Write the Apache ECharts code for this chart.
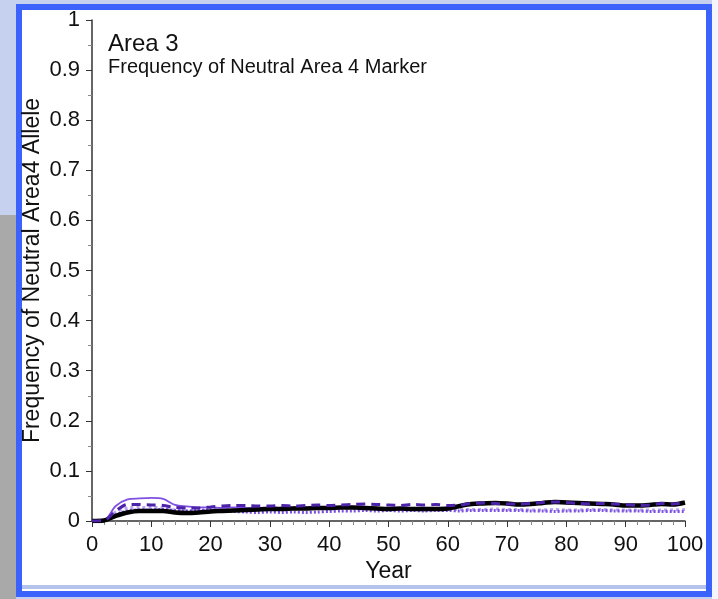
<!DOCTYPE html>
<html>
<head>
<meta charset="utf-8">
<script src="https://cdn.jsdelivr.net/npm/echarts@6/dist/echarts.min.js"></script>
<style>
  html, body { margin: 0; padding: 0; width: 718px; height: 599px; overflow: hidden; background: #c6d1ef; position: relative; }
  #gray { position: absolute; left: 0; top: 215px; width: 16px; height: 384px; background: #a9a9a9; }
  #rightstrip { position: absolute; left: 712px; top: 0; width: 6px; height: 599px; background: #f4f6fc; }
  #frame { position: absolute; left: 16px; top: 4px; width: 684px; height: 581px; border: 6px solid #3b63fb; background: #fff; }
  #bottomstrip { position: absolute; left: 22px; top: 585px; width: 684px; height: 4px; background: #b3c3ec; }
  #chart { position: absolute; left: 0; top: 0; width: 718px; height: 599px; }
</style>
</head>
<body>
<div id="gray"></div>
<div id="rightstrip"></div>
<div id="frame"></div>
<div id="bottomstrip"></div>
<div id="chart"></div>
<script>
const years = [0,2,4,6,8,10,12,14,16,18,20,22,24,26,28,30,32,34,36,38,40,42,44,46,48,50,52,54,56,58,60,62,64,66,68,70,72,74,76,78,80,82,84,86,88,90,92,94,96,98,100];

const blackSolid = [0,0.001,0.010,0.017,0.020,0.020,0.020,0.017,0.016,0.017,0.019,0.020,0.021,0.022,0.023,0.024,0.024,0.025,0.025,0.026,0.026,0.027,0.027,0.026,0.025,0.024,0.025,0.024,0.024,0.024,0.025,0.030,0.034,0.035,0.036,0.035,0.033,0.034,0.036,0.038,0.037,0.036,0.035,0.034,0.033,0.031,0.031,0.032,0.034,0.033,0.037];

const purpleDashed = [0,0.001,0.020,0.033,0.033,0.032,0.031,0.027,0.026,0.026,0.028,0.030,0.031,0.031,0.030,0.030,0.031,0.030,0.031,0.032,0.031,0.032,0.033,0.034,0.033,0.032,0.031,0.033,0.032,0.033,0.031,0.032,0.035,0.036,0.035,0.034,0.034,0.035,0.037,0.038,0.037,0.035,0.034,0.035,0.034,0.033,0.031,0.032,0.035,0.034,0.036];

const lightPurple = [0,0.001,0.030,0.043,0.045,0.046,0.044,0.032,0.029,0.027,0.027,0.026,0.027,0.026,0.026,0.027,0.026,0.027,0.027,0.028,0.028,0.027,0.028,0.027,0.026,0.025,0.026,0.025,0.024,0.025,0.026,0.030,0.033,0.034,0.035,0.035,0.034,0.034,0.036,0.036,0.035,0.034,0.033,0.034,0.033,0.032,0.032,0.032,0.033,0.034,0.035];

const purpleDotted = [0,0.001,0.012,0.020,0.022,0.022,0.023,0.021,0.020,0.021,0.022,0.021,0.019,0.018,0.017,0.018,0.017,0.018,0.017,0.018,0.019,0.020,0.020,0.021,0.020,0.021,0.020,0.021,0.020,0.021,0.021,0.020,0.021,0.021,0.021,0.021,0.021,0.020,0.020,0.019,0.020,0.020,0.021,0.021,0.020,0.020,0.020,0.019,0.019,0.019,0.019];

const paleDotted = [0,0.001,0.018,0.026,0.027,0.027,0.026,0.022,0.020,0.021,0.023,0.024,0.024,0.025,0.025,0.025,0.026,0.025,0.025,0.026,0.026,0.026,0.025,0.024,0.024,0.023,0.023,0.023,0.022,0.023,0.023,0.023,0.023,0.023,0.024,0.023,0.023,0.022,0.022,0.023,0.022,0.022,0.023,0.023,0.022,0.022,0.022,0.022,0.022,0.022,0.023];

const titleText = 'Area 3';
const subtitleText = 'Frequency of Neutral Area 4 Marker';
const xName = 'Year';
const yName = 'Frequency of Neutral Area4 Allele';

function pairs(arr) { return years.map((y, i) => [y, arr[i]]); }

const FONT = '"Liberation Sans", Arial, Helvetica, sans-serif';
const chart = echarts.init(document.getElementById('chart'), null, { renderer: 'canvas' });
chart.setOption({
  backgroundColor: 'transparent',
  animation: false,
  title: {
    text: titleText,
    subtext: subtitleText,
    left: 103, top: 27,
    itemGap: 1,
    textStyle: { fontFamily: FONT, fontSize: 24, fontWeight: 'normal', color: '#111' },
    subtextStyle: { fontFamily: FONT, fontSize: 20, color: '#111' }
  },
  grid: { left: 92, right: 33, top: 20, bottom: 78, containLabel: false },
  xAxis: {
    type: 'value', min: 0, max: 100, interval: 10,
    name: xName, nameLocation: 'middle', nameGap: 39, nameMoveOverlap: false,
    nameTextStyle: { fontFamily: FONT, fontSize: 23, color: '#111' },
    axisLine: { show: true, lineStyle: { color: '#333', width: 1.5 } },
    axisTick: { show: true, length: 6, lineStyle: { color: '#333' } },
    minorTick: { show: true, splitNumber: 5, length: 4, lineStyle: { color: '#888' } },
    axisLabel: { fontFamily: FONT, fontSize: 22, color: '#111', margin: 13 },
    splitLine: { show: false }
  },
  yAxis: {
    type: 'value', min: 0, max: 1, interval: 0.1,
    name: yName, nameLocation: 'middle', nameGap: 48, nameMoveOverlap: false,
    nameTextStyle: { fontFamily: FONT, fontSize: 23, color: '#111' },
    axisLine: { show: true, lineStyle: { color: '#333', width: 1.5 } },
    axisTick: { show: true, length: 6, lineStyle: { color: '#333' } },
    minorTick: { show: true, splitNumber: 2, length: 4, lineStyle: { color: '#888' } },
    axisLabel: { fontFamily: FONT, fontSize: 22, color: '#111', margin: 12 },
    splitLine: { show: false }
  },
  series: [
    { name: 'Pale dotted', type: 'line', data: pairs(paleDotted), showSymbol: false, smooth: 0.3,
      lineStyle: { color: '#b9a6ee', width: 3, type: 'dotted' }, z: 2 },
    { name: 'Purple dotted', type: 'line', data: pairs(purpleDotted), showSymbol: false, smooth: 0.3,
      lineStyle: { color: '#7b4fe0', width: 3, type: [2, 2] }, z: 3 },
    { name: 'Light purple', type: 'line', data: pairs(lightPurple), showSymbol: false, smooth: 0.3,
      lineStyle: { color: '#7f50e3', width: 1.8 }, z: 4 },
    { name: 'Black', type: 'line', data: pairs(blackSolid), showSymbol: false, smooth: 0.3,
      lineStyle: { color: '#000', width: 4.5 }, z: 5 },
    { name: 'Purple dashed', type: 'line', data: pairs(purpleDashed), showSymbol: false, smooth: 0.3,
      lineStyle: { color: '#4b22a8', width: 3, type: [9, 6] }, z: 6 }
  ]
});
</script>
</body>
</html>
